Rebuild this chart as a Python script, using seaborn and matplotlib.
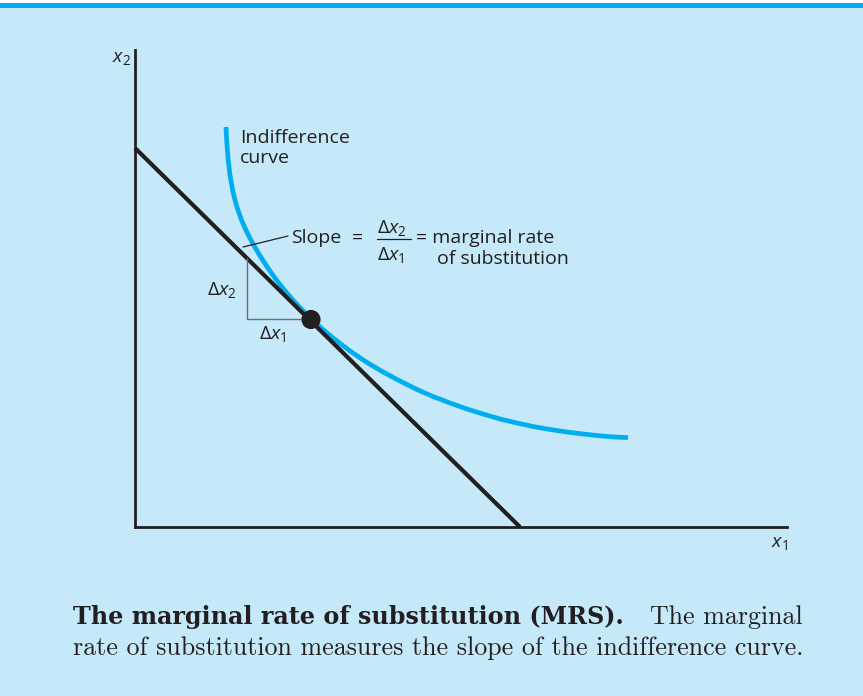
import numpy as np
import pandas as pd
import seaborn as sns
import matplotlib.pyplot as plt
from matplotlib.lines import Line2D
from matplotlib.patches import Rectangle

# Werte (Einheiten = Pixelabstand vom Ursprung)
budget_x = [0, 385]
budget_y = [379, 0]

curve_x = [91.0, 91.8, 93.2, 95.1, 98.2, 101.6, 106.5, 111.8, 117.5, 124.5, 132.2, 140.7,
           149.3, 157.0, 164.4, 175.4, 187, 198, 215, 232, 249, 265, 282, 298, 315, 332,
           348, 365, 382, 398, 415, 432, 448, 465, 479, 493]
curve_y = [400, 384, 367, 351, 334, 321, 307, 295, 284, 272, 260, 248,
           237, 228, 220, 209, 198.3, 189, 176, 164.5, 154.5, 146, 137.5, 130.5, 124, 118,
           113, 108, 104, 100.5, 97.5, 95, 93, 91.2, 90, 89.4]

point_x = [176]
point_y = [207.5]

tri_x = [112, 112, 176]
tri_y = [269, 208, 208]

leader_x = [108, 153]
leader_y = [280, 291]

W, H = 863, 696
BG = '#C6E9F9'
INK = '#231F20'
BLUE = '#00AEEF'

sns.set_style('white')
plt.rcParams['font.family'] = ['Open Sans', 'DejaVu Sans']
plt.rcParams['mathtext.fontset'] = 'custom'
plt.rcParams['mathtext.rm'] = 'Open Sans'
plt.rcParams['mathtext.it'] = 'Open Sans:italic'

fig = plt.figure(figsize=(W / 100, H / 100), dpi=100)
fig.patch.set_facecolor(BG)
fig.add_artist(Rectangle((0, 1 - 3 / H), 1, 3 / H, transform=fig.transFigure,
                         facecolor='white', edgecolor='none'))
fig.add_artist(Rectangle((0, 1 - 7.5 / H), 1, 4.5 / H, transform=fig.transFigure,
                         facecolor=BLUE, edgecolor='none'))

ax = fig.add_axes([135 / W, (H - 527) / H, 652 / W, 477 / H])
ax.set_facecolor('none')
ax.set_xlim(0, 652)
ax.set_ylim(0, 477)
for s in ['top', 'right']:
    ax.spines[s].set_visible(False)
for s in ['left', 'bottom']:
    ax.spines[s].set_color(INK)
    ax.spines[s].set_linewidth(2.0)
ax.set_xticks([])
ax.set_yticks([])

df_curve = pd.DataFrame({'x': curve_x, 'y': curve_y})
sns.lineplot(data=df_curve, x='x', y='y', sort=False, estimator=None, color=BLUE,
             lw=3.4, ax=ax, solid_capstyle='butt')
sns.lineplot(x=budget_x, y=budget_y, color=INK, lw=3.0, ax=ax, clip_on=False,
             solid_capstyle='butt')
sns.lineplot(x=tri_x, y=tri_y, sort=False, estimator=None, color='#6D6E71', lw=1.0, ax=ax)
sns.lineplot(x=leader_x, y=leader_y, color=INK, lw=0.9, ax=ax)
sns.scatterplot(x=point_x, y=point_y, color=INK, s=190, edgecolor='none', ax=ax, zorder=5)
ax.set_xlabel('')
ax.set_ylabel('')


def ftext(px, py, s, **kw):
    kw.setdefault('color', INK)
    kw.setdefault('va', 'baseline')
    fig.text(px / W, 1 - py / H, s, **kw)


fs = 14
ftext(240, 143, 'Indifference', fontsize=fs)
ftext(240, 163, 'curve', fontsize=fs)
ftext(291, 243, 'Slope', fontsize=fs)
ftext(352, 243, '=', fontsize=fs)
ftext(377, 233, r'$\Delta x_2$', fontsize=fs)
ftext(377, 260, r'$\Delta x_1$', fontsize=fs)
fig.add_artist(Line2D([377 / W, 411 / W], [1 - 239 / H, 1 - 239 / H],
                      transform=fig.transFigure, color=INK, lw=0.9))
ftext(416, 243, '= marginal rate', fontsize=fs)
ftext(437, 264, 'of substitution', fontsize=fs)
ftext(207, 295, r'$\Delta x_2$', fontsize=fs)
ftext(259, 339, r'$\Delta x_1$', fontsize=fs)
ftext(112, 62, r'$x_2$', fontsize=fs)
ftext(771, 547, r'$x_1$', fontsize=fs)

ftext(73, 624, 'The marginal rate of substitution (MRS).', family='DejaVu Serif',
      weight='bold', fontsize=17.2)
ftext(803, 624, 'The marginal', family='cmr10', fontsize=18.7, ha='right')
ftext(73, 655, 'rate of substitution measures the slope of the indifference curve.',
      family='cmr10', fontsize=18.7)

fig.savefig('out.png', dpi=100, facecolor=fig.get_facecolor())
